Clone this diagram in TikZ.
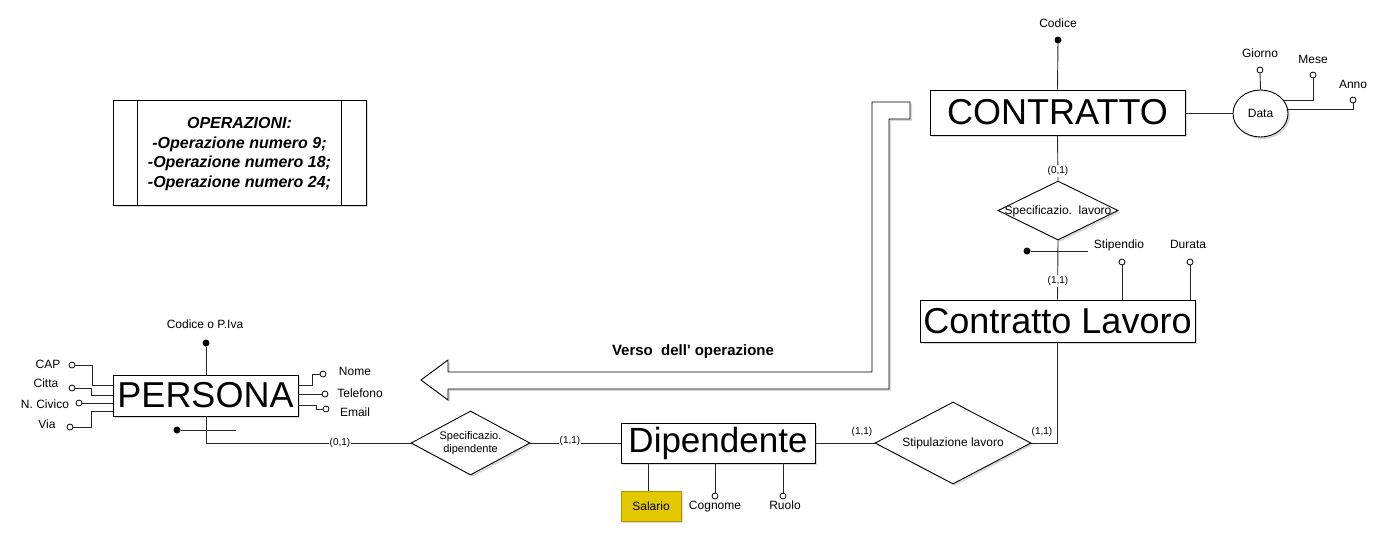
\documentclass[tikz,border=0pt]{standalone}
\usepackage{fontspec}
\setmainfont{Liberation Sans}
\newfontfamily\plainsans{Liberation Sans}
\usetikzlibrary{shapes.geometric,shadows}
\definecolor{salfill}{HTML}{E3C800}
\definecolor{salline}{HTML}{B09500}
\tikzset{
  shad/.style={drop shadow={shadow xshift=2pt,shadow yshift=-2pt,opacity=0.3}},
  ent/.style={draw, fill=white, line width=0.9pt, inner sep=0pt, shad},
  rel/.style={diamond, draw, fill=white, line width=0.9pt, inner sep=0pt, shad},
  conn/.style={line width=0.9pt, draw=black!85},
  attc/.style={circle, draw, fill=white, inner sep=0pt, minimum size=6pt, line width=0.8pt},
  keyc/.style={circle, fill=black, inner sep=0pt, minimum size=7pt},
  lbl/.style={inner sep=1pt, text height=8.6pt, text depth=1pt, font=\fontsize{12}{14}\selectfont},
  card/.style={fill=white, inner sep=1pt, font=\fontsize{10}{12}\selectfont},
  big/.style={font=\fontsize{36}{40}\selectfont},
}
\begin{document}
\begin{tikzpicture}[x=1pt,y=-1pt]
\useasboundingbox (0,0) rectangle (1395,542);

% OPERAZIONI box
\node[ent, minimum width=253pt, minimum height=105pt] (ops) at (239.5,152.5) {};
\draw[line width=0.9pt] ([xshift=25pt]ops.north west) -- ([xshift=25pt]ops.south west);
\draw[line width=0.9pt] ([xshift=-25pt]ops.north east) -- ([xshift=-25pt]ops.south east);
\node[align=center, font=\fontsize{16}{19.5}\selectfont\bfseries\itshape] (opstxt) at (239.5,154) {OPERAZIONI:\\-Operazione numero 9;\\-Operazione numero 18;\\-Operazione numero 24;};

% Arrow
\draw[line width=0.9pt, fill=white, shad] (421,380) -- (448,360) -- (448,372) -- (872,372) -- (872,102) -- (910,102) -- (910,119) -- (889,119) -- (889,389) -- (448,389) -- (448,400) -- cycle;
\node[font=\plainsans\fontsize{15}{18}\selectfont\bfseries] (verso) at (693,352) {Verso\ \ dell' operazione};

% CONTRATTO
\node[ent, big, minimum width=255pt, minimum height=45pt] (contr) at (1057.5,112.5) {CONTRATTO};
\node[lbl] (codC) at (1058,24) {Codice};
\node[keyc] (kC) at (1058,40) {};
\draw[conn] (kC) -- (contr.north);
\node[ellipse, draw, fill=white, line width=0.9pt, inner sep=0pt, minimum width=55pt, minimum height=47pt, shad, font=\fontsize{12}{14}\selectfont] (data) at (1260.5,113.5) {Data};
\draw[conn] (contr.east |- data.west) -- (data.west);
\node[lbl] (giornoL) at (1260,54) {Giorno};
\node[attc] (giorno) at (1260,70) {};
\draw[conn] (giorno) -- (data.north);
\node[lbl] (meseL) at (1313,60) {Mese};
\node[attc] (mese) at (1313,75) {};
\draw[conn] (mese) |- (data.30);
\node[lbl] (annoL) at (1353,85) {Anno};
\node[attc] (anno) at (1353,100) {};
\draw[conn] (anno) |- (data.8);

% Specificazio. lavoro
\node[rel, minimum width=120pt, minimum height=59pt] (spL) at (1058,210.5) {};
\node[lbl] (spLt) at (spL.center) {Specificazio.\ \ lavoro};
\draw[conn] (contr.south) -- (spL.north);
\node[card] (c01a) at (1058,171) {(0,1)};

% Contratto Lavoro
\node[ent, big, minimum width=275pt, minimum height=42pt] (cl) at (1057.5,321) {Contratto Lavoro};
\draw[conn] (spL.south) -- (cl.north);
\node[card] (c11a) at (1058,281) {(1,1)};
\node[keyc] (kL) at (1027,251) {};
\coordinate (kLend) at (1088,251);
\draw[conn] (kL) -- (kLend);
\node[lbl] (stipL) at (1119,245) {Stipendio};
\node[attc] (stip) at (1122,262) {};
\draw[conn] (stip) -- (cl.north -| stip);
\node[lbl] (durL) at (1188,245) {Durata};
\node[attc] (dur) at (1190,262) {};
\draw[conn] (dur) -- (cl.north -| dur);

% Stipulazione lavoro
\node[rel, minimum width=156pt, minimum height=82pt] (stipu) at (953,443) {};
\node[lbl] (stiput) at (stipu.center) {Stipulazione lavoro};
\draw[conn] (cl.south) |- (stipu.east);
\node[card] (c11b) at (1042,432) {(1,1)};

% Dipendente
\node[ent, big, minimum width=194pt, minimum height=40pt, font=\fontsize{35}{40}\selectfont] (dip) at (718,443) {Dipendente};
\draw[conn] (dip.east) -- (stipu.west);
\node[card] (c11c) at (862,432) {(1,1)};
\node[draw=salline, fill=salfill, line width=0.9pt, minimum width=60pt, minimum height=30pt, inner sep=0pt, shad, font=\fontsize{12}{14}\selectfont] (sal) at (651,506) {Salario};
\draw[conn] (dip.south -| 648,0) -- (sal.north -| 648,0);
\node[attc] (cog) at (715,496) {};
\node[lbl] (cogL) at (715,506) {Cognome};
\draw[conn] (dip.south -| cog) -- (cog);
\node[attc] (ruo) at (783,496) {};
\node[lbl] (ruoL) at (785,506) {Ruolo};
\draw[conn] (dip.south -| ruo) -- (ruo);

% Specificazio. dipendente
\node[rel, minimum width=119pt, minimum height=64pt] (spD) at (470.5,443) {};
\node[align=center, inner sep=0pt, font=\fontsize{11}{13}\selectfont] (spDt) at (spD.center) {Specificazio.\\dipendente};
\draw[conn] (spD.east) -- (dip.west);
\node[card] (c11d) at (570,441) {(1,1)};

% PERSONA
\node[ent, big, minimum width=185pt, minimum height=41pt] (pers) at (205.5,395.5) {PERSONA};
\draw[conn] (pers.south -| 206,0) |- (spD.west);
\node[card] (c01b) at (340,443) {(0,1)};
\node[lbl] (codP) at (205,325) {Codice o P.Iva};
\node[keyc] (kP) at (206,343) {};
\draw[conn] (kP) -- (pers.north -| kP);
\node[keyc] (kP2) at (177,430) {};
\coordinate (kP2end) at (236,430);
\draw[conn] (kP2) -- (kP2end);

% left attributes
\node[attc] (cap) at (72,365) {};
\node[lbl] (capL) at (48,365) {CAP};
\draw[conn] (cap) -- (92,365) |- (pers.west |- 0,385);
\node[attc] (cit) at (72,388) {};
\node[lbl] (citL) at (46,384) {Citta};
\draw[conn] (cit) -- (91,388) |- (pers.west |- 0,395);
\node[attc] (civ) at (79,403) {};
\node[lbl] (civL) at (45,405) {N. Civico};
\draw[conn] (civ) -- (pers.west |- civ);
\node[attc] (via) at (70,427) {};
\node[lbl] (viaL) at (47,425) {Via};
\draw[conn] (via) -- (91,427) |- (pers.west |- 0,411);

% right attributes
\node[attc] (nome) at (323,374) {};
\node[lbl] (nomeL) at (355,372) {Nome};
\draw[conn] (pers.east |- 0,385) -- (312,385) |- (nome);
\node[attc] (tel) at (325,394) {};
\node[lbl] (telL) at (360,394) {Telefono};
\draw[conn] (pers.east |- tel) -- (tel);
\node[attc] (mail) at (326,409) {};
\node[lbl] (mailL) at (355,413) {Email};
\draw[conn] (pers.east |- 0,405) -- (316,405) |- (mail);
\end{tikzpicture}
\end{document}
